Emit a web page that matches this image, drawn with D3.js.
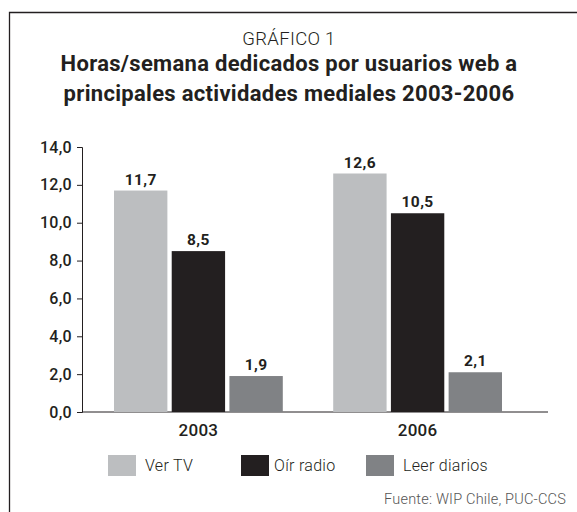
<!DOCTYPE html>
<html>
<head>
<meta charset="utf-8">
<script src="https://cdn.jsdelivr.net/npm/d3@7"></script>
<style>
  body { margin: 0; background: #fff; }
  svg { display: block; font-family: Roboto, "DejaVu Sans", sans-serif; }
</style>
</head>
<body>
<div id="chart"></div>
<script>
// data
var years = ["2003", "2006"];
var series = ["Ver TV", "Oír radio", "Leer diarios"];
var verTV = [11.7, 12.6];
var oirRadio = [8.5, 10.5];
var leerDiarios = [1.9, 2.1];
var yTicks = [0, 2, 4, 6, 8, 10, 12, 14];
var colors = ["#bcbec0", "#231f20", "#808285"];

var width = 577,
    height = 512,
    ink = "#231f20";

var rows = years.map(function(y, i) {
  return { year: y, values: [verTV[i], oirRadio[i], leerDiarios[i]] };
});

var fmt = function(v) { return d3.format(".1f")(v).replace(".", ","); };

var svg = d3.select("#chart").append("svg")
    .attr("width", width)
    .attr("height", height);

// frame (open on the right and bottom, as in the scan)
svg.append("path")
    .attr("d", "M9.5," + height + "V12.5H" + width)
    .attr("fill", "none")
    .attr("stroke", ink)
    .attr("stroke-width", 1.3);

// titles
svg.append("text")
    .attr("x", 289).attr("y", 45)
    .attr("text-anchor", "middle")
    .style("font-size", "18.5px").style("font-weight", 300)
    .style("letter-spacing", "0.3px")
    .attr("fill", ink)
    .text("GRÁFICO 1");

svg.append("text")
    .attr("x", 289).attr("y", 71)
    .attr("text-anchor", "middle")
    .style("font-size", "22px").style("font-weight", 700)
    .style("letter-spacing", "0.3px")
    .attr("fill", ink)
    .text("Horas/semana dedicados por usuarios web a");

svg.append("text")
    .attr("x", 289).attr("y", 101)
    .attr("text-anchor", "middle")
    .style("font-size", "22px").style("font-weight", 700)
    .style("letter-spacing", "0.3px")
    .attr("fill", ink)
    .text("principales actividades mediales 2003-2006");

// scales
var yScale = d3.scaleLinear()
    .domain([0, 14])
    .range([412, 147]);

var x0 = d3.scaleBand()
    .domain(years)
    .range([82, 534])
    .paddingInner(0.23)
    .paddingOuter(0.146);

var x1 = d3.scaleBand()
    .domain(series)
    .range([0, x0.bandwidth()])
    .paddingInner(0.075);

// y axis
var yAxis = d3.axisLeft(yScale)
    .tickValues(yTicks)
    .tickFormat(fmt)
    .tickSize(5)
    .tickSizeOuter(5)
    .tickPadding(5);

var gy = svg.append("g")
    .attr("transform", "translate(82,0)")
    .call(yAxis);
gy.selectAll("path, line").attr("stroke", ink);
gy.selectAll("text")
    .attr("fill", ink)
    .style("font-size", "16px").style("font-weight", 500)
    .style("letter-spacing", "0.3px")
    .style("font-family", "Roboto, sans-serif");

// x axis
svg.append("line")
    .attr("x1", 82).attr("x2", x0.range()[1] + 14)
    .attr("y1", yScale(0)).attr("y2", yScale(0))
    .attr("stroke", ink);

svg.selectAll(".year")
    .data(years)
  .enter().append("text")
    .attr("class", "year")
    .attr("x", function(d) { return x0(d) + x0.bandwidth() / 2; })
    .attr("y", yScale(0) + 24)
    .attr("text-anchor", "middle")
    .style("font-size", "17px").style("font-weight", 500)
    .style("letter-spacing", "0.3px")
    .attr("fill", ink)
    .text(function(d) { return d; });

// bars
var groups = svg.selectAll(".group")
    .data(rows)
  .enter().append("g")
    .attr("class", "group")
    .attr("transform", function(d) { return "translate(" + x0(d.year) + ",0)"; });

var cells = groups.selectAll(".cell")
    .data(function(d) {
      return d.values.map(function(v, i) { return { key: series[i], value: v, i: i }; });
    })
  .enter().append("g")
    .attr("class", "cell");

cells.append("rect")
    .attr("x", function(d) { return x1(d.key); })
    .attr("y", function(d) { return yScale(d.value); })
    .attr("width", x1.bandwidth())
    .attr("height", function(d) { return yScale(0) - yScale(d.value); })
    .attr("fill", function(d) { return colors[d.i]; });

cells.append("text")
    .attr("x", function(d) { return x1(d.key) + x1.bandwidth() / 2; })
    .attr("y", function(d) { return yScale(d.value) - 6; })
    .attr("text-anchor", "middle")
    .style("font-size", "15.5px").style("font-weight", 700)
    .style("letter-spacing", "0.4px")
    .attr("fill", ink)
    .text(function(d) { return fmt(d.value); });

// legend
var legendX = [108, 241, 366];
var legend = svg.selectAll(".legend")
    .data(series)
  .enter().append("g")
    .attr("class", "legend")
    .attr("transform", function(d, i) { return "translate(" + legendX[i] + ",455)"; });

legend.append("rect")
    .attr("width", 28).attr("height", 21)
    .attr("fill", function(d, i) { return colors[i]; });

legend.append("text")
    .attr("x", function(d, i) { return i === 0 ? 37 : 33 + (i === 2 ? 4 : 0); })
    .attr("y", 16)
    .style("font-size", "16px").style("font-weight", 300)
    .style("letter-spacing", "0.3px")
    .attr("fill", ink)
    .text(function(d) { return d; });

// source
svg.append("text")
    .attr("x", 566).attr("y", 504)
    .attr("text-anchor", "end")
    .style("font-size", "14.5px").style("font-weight", 300)
    .style("letter-spacing", "0.2px")
    .attr("fill", "#555")
    .text("Fuente: WIP Chile, PUC-CCS");
</script>
</body>
</html>
